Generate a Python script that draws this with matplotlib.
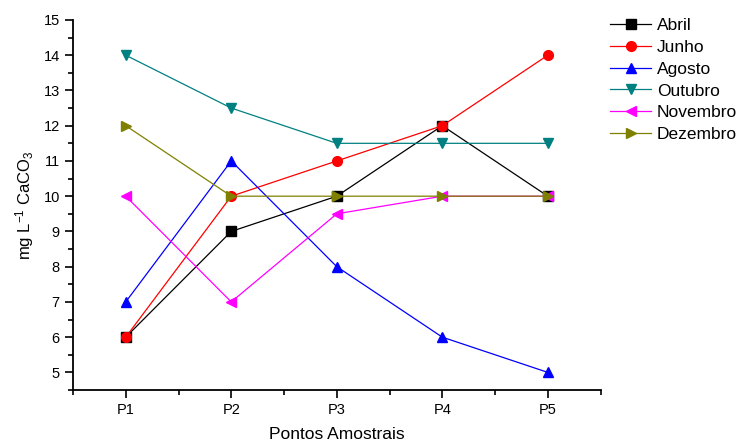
import numpy as np
import matplotlib.pyplot as plt
from matplotlib.ticker import MultipleLocator

plt.rcParams['font.family'] = ['Liberation Sans', 'DejaVu Sans']
plt.rcParams['mathtext.fontset'] = 'custom'
plt.rcParams['mathtext.rm'] = 'Liberation Sans'
plt.rcParams['mathtext.it'] = 'Liberation Sans'

pontos = ["P1", "P2", "P3", "P4", "P5"]
abril = [6, 9, 10, 12, 10]
junho = [6, 10, 11, 12, 14]
agosto = [7, 11, 8, 6, 5]
outubro = [14, 12.5, 11.5, 11.5, 11.5]
novembro = [10, 7, 9.5, 10, 10]
dezembro = [12, 10, 10, 10, 10]

series = [
    ("Abril", abril, "black", "s"),
    ("Junho", junho, "red", "o"),
    ("Agosto", agosto, "blue", "^"),
    ("Outubro", outubro, "#008080", "v"),
    ("Novembro", novembro, "magenta", "<"),
    ("Dezembro", dezembro, "#808000", ">"),
]

fig = plt.figure(figsize=(7.47, 4.43), dpi=100)
ax = fig.add_axes([0.0977, 0.1196, 0.7063, 0.8353])

x = np.arange(1, len(pontos) + 1)
for name, vals, col, mk in series:
    ax.plot(x, vals, color=col, marker=mk, markersize=7, linewidth=0.9, label=name)

ax.set_xlim(0.5, 5.5)
ax.set_ylim(4.5, 15)
ax.set_xticks(x)
ax.set_xticklabels(pontos)
ax.xaxis.set_minor_locator(MultipleLocator(0.5))
ax.yaxis.set_major_locator(MultipleLocator(1))
ax.yaxis.set_minor_locator(MultipleLocator(0.5))
ax.tick_params(which="major", length=6, width=1.2, labelsize=10.5, direction="out")
ax.tick_params(which="minor", length=3.5, width=1.2, direction="out")
for s in ["top", "right"]:
    ax.spines[s].set_visible(False)
for s in ["left", "bottom"]:
    ax.spines[s].set_linewidth(1.3)

ax.set_xlabel("Pontos Amostrais", fontsize=12.5, labelpad=7)
ax.set_ylabel("mg L$^{-1}$ CaCO$_3$", fontsize=12, labelpad=5)

leg = fig.legend(loc="upper left", bbox_to_anchor=(0.807, 0.976), frameon=False,
                 fontsize=12.5, handlelength=2.4, handletextpad=0.3, labelspacing=0.39,
                 borderaxespad=0)

fig.savefig("out.png", dpi=100)
